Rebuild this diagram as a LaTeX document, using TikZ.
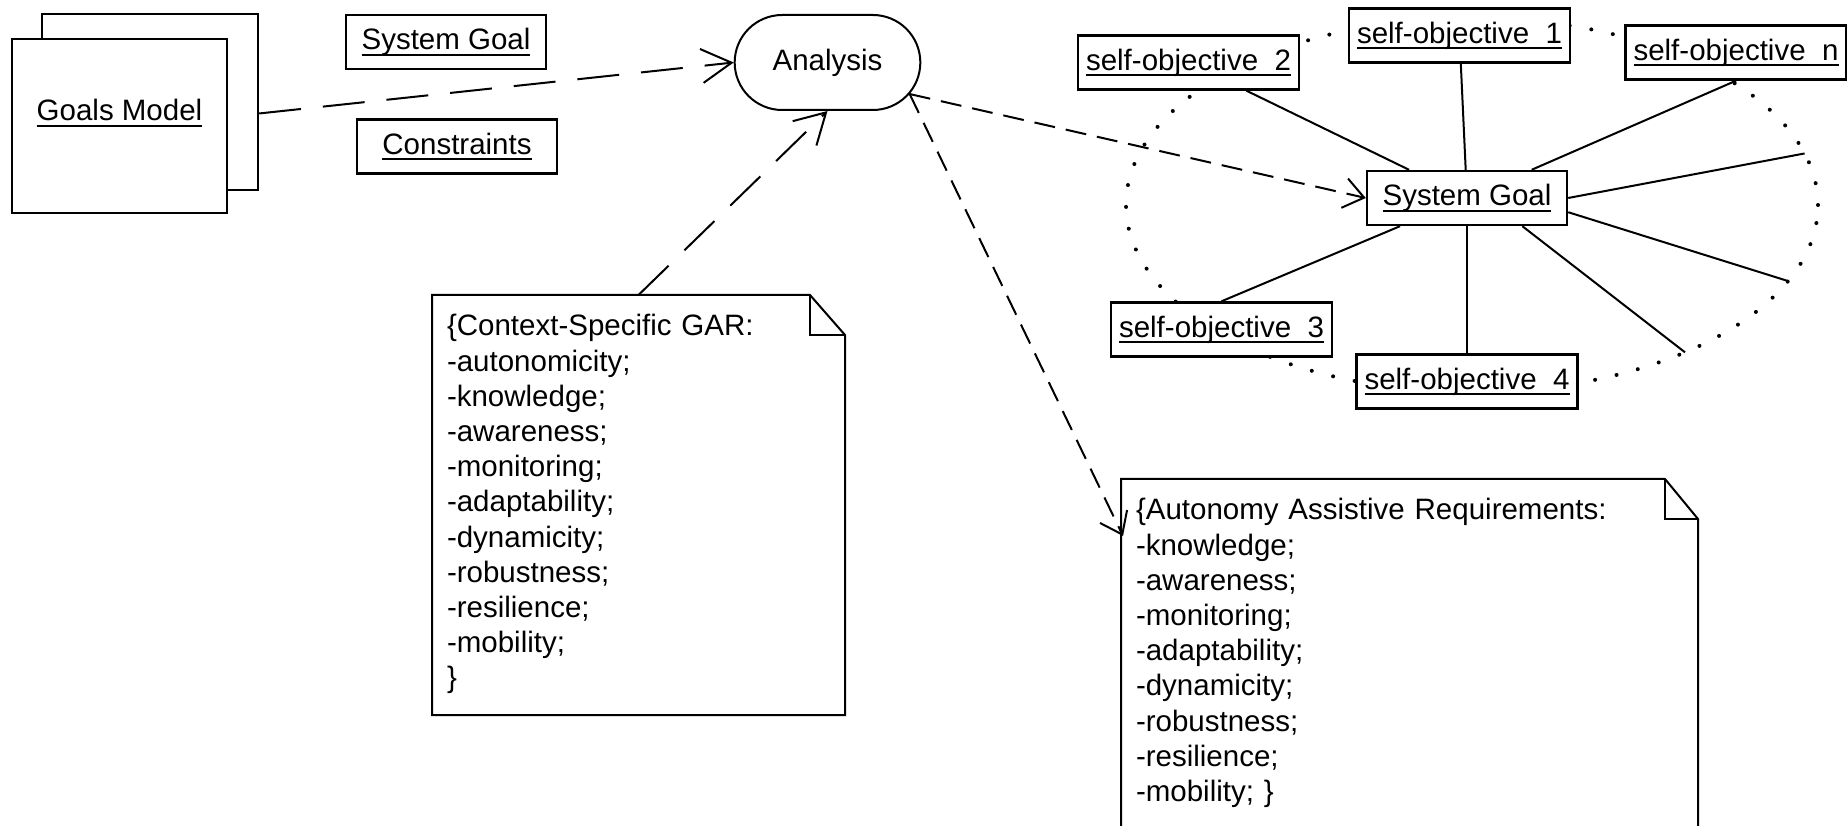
\documentclass[tikz,border=0pt]{standalone}
\usepackage{fontspec}
\setmainfont{Liberation Sans}
\usetikzlibrary{arrows.meta,shapes.misc,calc}
\newsavebox{\unamebox}
\newcommand{\uname}[1]{\sbox{\unamebox}{#1}\rlap{\rule[-3pt]{\wd\unamebox}{1pt}}\usebox{\unamebox}}

\begin{document}
\begin{tikzpicture}[x=0.5pt, y=0.5pt, line width=1pt,
  font=\fontsize{14.75pt}{17.6pt}\selectfont,
  obj/.style={shape=rectangle, draw, fill=white, line width=1.2pt, minimum width=100pt, minimum height=27pt, inner xsep=4pt},
  notebox/.style={anchor=north west, align=left, inner xsep=7pt, inner ysep=9.25pt},
  dep/.style={dash pattern=on 21pt off 11pt, -{Straight Barb[length=15pt, width=17pt]}},
  uses/.style={dash pattern=on 10.5pt off 5.5pt, -{Straight Barb[length=10pt, width=15pt]}},
  loopline/.style={line width=2pt, line cap=round, dash pattern=on 0pt off 11pt}]
\path[use as bounding box, clip] (0,0) rectangle (1847,825);
\coordinate (loopc) at (1472,620);
\draw[loopline] (loopc) ellipse [x radius=173pt, y radius=93.5pt];
\coordinate (e1) at ($(loopc)+(16:346 and 187)$);
\coordinate (e2) at ($(loopc)+(-24:346 and 187)$);
\coordinate (e3) at ($(loopc)+(-52:346 and 187)$);

\node[obj, minimum width=108pt, minimum height=88pt] (GMback) at (150,723) {};
\node[obj, minimum width=107.5pt, minimum height=87pt, label={[yshift=6.5pt]center:\uname{Goals Model}}] (GM) at (119.5,699) {};
\node[obj] (goal) at (446,783) {\uname{System Goal}};
\node[obj] (constr) at (457,678.5) {\uname{Constraints}};
\node[shape=rounded rectangle, draw, fill=white, minimum width=99.5pt, minimum height=47.5pt] (ana) at (827.5,762.5) {Analysis};

\node[obj] (SG) at (1467,627) {\uname{System Goal}};
\node[obj] (so1) at (1459.5,789.5) {\uname{self-objective\_1}};
\node[obj] (so2) at (1188.5,762.5) {\uname{self-objective\_2}};
\node[obj] (son) at (1736,772.5) {\uname{self-objective\_n}};
\node[obj] (so3) at (1221.5,495.5) {\uname{self-objective\_3}};
\node[obj, below of=SG, node distance=91.75pt] (so4) {\uname{self-objective\_4}};

\node[notebox, text width=191.5pt] (note1) at (432,530) {\{Context-Specific GAR:\\-autonomicity;\\-knowledge;\\-awareness;\\-monitoring;\\-adaptability;\\-dynamicity;\\-robustness;\\-resilience;\\-mobility;\\\}};
\node[notebox, text width=273.5pt] (note2) at (1121,346) {\{Autonomy Assistive Requirements:\\-knowledge;\\-awareness;\\-monitoring;\\-adaptability;\\-dynamicity;\\-robustness;\\-resilience;\\-mobility; \}};

\draw (note1.north west) -- ($(note1.north east)+(-35,0)$) -- ($(note1.north east)+(0,-40)$) -- (note1.north east |- 0,110) -- (note1.north west |- 0,110) -- cycle;
\draw ($(note1.north east)+(-35,0)$) -- ++(0,-40) -- ++(35,0);
\draw (note2.north west) -- ($(note2.north east)+(-33,0)$) -- ($(note2.north east)+(0,-40)$) -- (note2.north east |- 0,-20) -- (note2.north west |- 0,-20) -- cycle;
\draw ($(note2.north east)+(-33,0)$) -- ++(0,-40) -- ++(33,0);

\draw (SG) -- (so2);
\draw (SG) -- (so1);
\draw (SG) -- (son.south);
\draw (SG.east) -- (e1);
\draw (SG.-8) -- (e2);
\draw (SG.-27) -- (e3);
\draw (SG) -- (so4);
\draw (SG) -- (so3.north);

\draw[dep] (GMback.-6) -- (ana.west);
\draw[dep] (note1.north) -- (ana.south);
\draw[uses] (ana.-21) -- (SG.west);
\draw[uses] (ana.-21) -- ($(note2.north west)+(2,-57)$);
\end{tikzpicture}
\end{document}
